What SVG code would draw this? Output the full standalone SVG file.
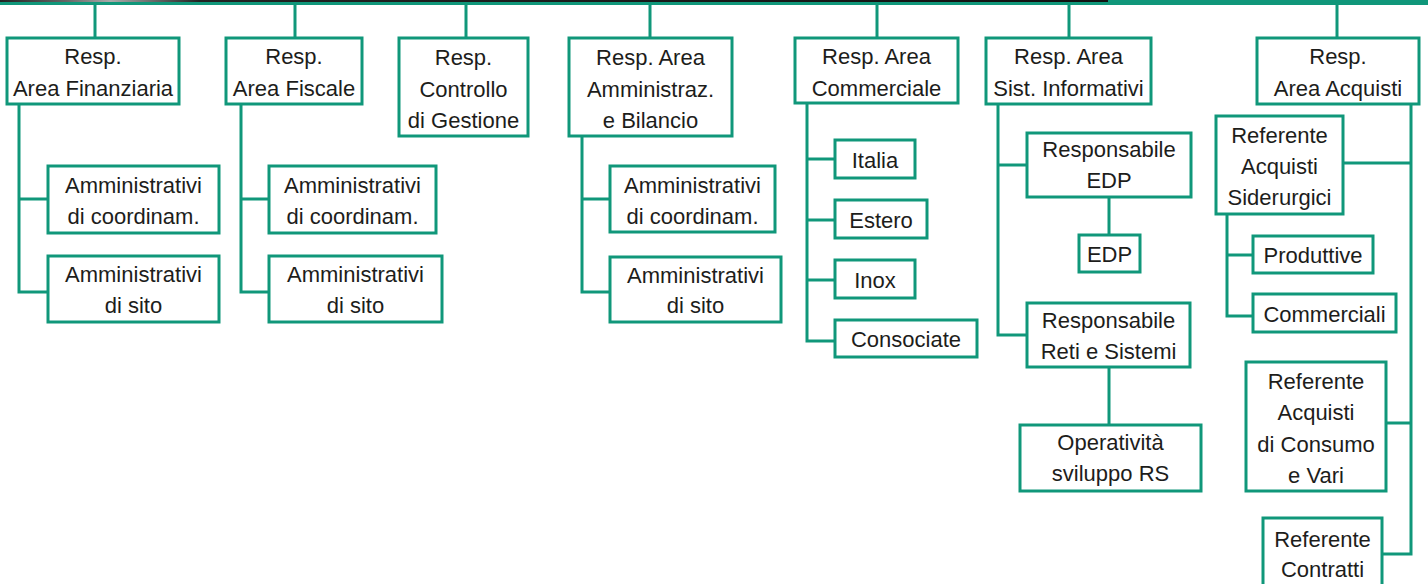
<svg xmlns="http://www.w3.org/2000/svg" width="1428" height="584" viewBox="0 0 1428 584">
<defs>
<linearGradient id="photo" x1="0" y1="0" x2="1" y2="0">
<stop offset="0" stop-color="#222"/><stop offset="0.06" stop-color="#666"/><stop offset="0.1" stop-color="#aaa"/><stop offset="0.18" stop-color="#222"/><stop offset="1" stop-color="#111"/>
</linearGradient>
</defs>
<style>
.b{fill:#fff;stroke:#10977a;stroke-width:3}
.c{fill:none;stroke:#10977a;stroke-width:3}
text{font-family:"Liberation Sans",Arial,sans-serif;font-size:22px;fill:#1d1d1b;text-anchor:middle}
</style>
<rect x="0" y="0" width="1108" height="2" fill="url(#photo)"/>
<g id="connectors">
<path class="c" d="M0 3.5H1428" stroke-width="2.5"/>
<path class="c" d="M1108 1.2H1428M1242 0V3.5" stroke-width="1.6"/>
<path class="c" d="M95 3.5V38M295 3.5V38M466 3.5V38M650 3.5V38M877 3.5V38M1069 3.5V38M1337 3.5V38"/>
<path class="c" d="M19 104V292H48M19 199H48"/>
<path class="c" d="M241 104V292H269M241 199H269"/>
<path class="c" d="M582 136V292H610M582 199H610"/>
<path class="c" d="M807 103V341H835M807 159H835M807 220H835M807 280H835"/>
<path class="c" d="M998 104V335H1027M998 165H1027M1109 197V235M1109 367V425"/>
<path class="c" d="M1411 104V554H1382M1343 163H1411M1386 423H1411"/>
<path class="c" d="M1227 214V316H1253M1227 255H1253"/>
</g>
<g id="n1"><rect class="b" x="7" y="38" width="172" height="66"/><text x="93" y="64">Resp.</text><text x="93" y="96">Area Finanziaria</text></g>
<g id="n2"><rect class="b" x="226" y="38" width="136" height="66"/><text x="294" y="64">Resp.</text><text x="294" y="96">Area Fiscale</text></g>
<g id="n3"><rect class="b" x="399" y="38" width="129" height="98"/><text x="463.5" y="65">Resp.</text><text x="463.5" y="96.5">Controllo</text><text x="463.5" y="128">di Gestione</text></g>
<g id="n4"><rect class="b" x="569" y="38" width="163" height="98"/><text x="650.5" y="65">Resp. Area</text><text x="650.5" y="96.5">Amministraz.</text><text x="650.5" y="128">e Bilancio</text></g>
<g id="n5"><rect class="b" x="795" y="38" width="163" height="65"/><text x="876.5" y="64">Resp. Area</text><text x="876.5" y="96">Commerciale</text></g>
<g id="n6"><rect class="b" x="986" y="38" width="165" height="66"/><text x="1068.5" y="64">Resp. Area</text><text x="1068.5" y="96">Sist. Informativi</text></g>
<g id="n7"><rect class="b" x="1257" y="38" width="162" height="66"/><text x="1338" y="64">Resp.</text><text x="1338" y="96">Area Acquisti</text></g>
<g id="n8"><rect class="b" x="48" y="166" width="171" height="67"/><text x="133.5" y="193">Amministrativi</text><text x="133.5" y="224">di coordinam.</text></g>
<g id="n9"><rect class="b" x="48" y="256" width="171" height="66"/><text x="133.5" y="282">Amministrativi</text><text x="133.5" y="313">di sito</text></g>
<g id="n10"><rect class="b" x="269" y="166" width="167" height="67"/><text x="352.5" y="193">Amministrativi</text><text x="352.5" y="224">di coordinam.</text></g>
<g id="n11"><rect class="b" x="269" y="256" width="173" height="66"/><text x="355.5" y="282">Amministrativi</text><text x="355.5" y="313">di sito</text></g>
<g id="n12"><rect class="b" x="610" y="166" width="165" height="66"/><text x="692.5" y="193">Amministrativi</text><text x="692.5" y="224">di coordinam.</text></g>
<g id="n13"><rect class="b" x="610" y="257" width="171" height="65"/><text x="695.5" y="283">Amministrativi</text><text x="695.5" y="313">di sito</text></g>
<g id="n14"><rect class="b" x="835" y="140" width="80" height="38"/><text x="875" y="168">Italia</text></g>
<g id="n15"><rect class="b" x="835" y="200" width="92" height="38"/><text x="881" y="228">Estero</text></g>
<g id="n16"><rect class="b" x="835" y="260" width="80" height="38"/><text x="875" y="288">Inox</text></g>
<g id="n17"><rect class="b" x="835" y="320" width="142" height="37"/><text x="906" y="347">Consociate</text></g>
<g id="n18"><rect class="b" x="1027" y="133" width="164" height="64"/><text x="1109" y="157">Responsabile</text><text x="1109" y="188">EDP</text></g>
<g id="n19"><rect class="b" x="1079" y="235" width="61" height="37"/><text x="1109.5" y="262">EDP</text></g>
<g id="n20"><rect class="b" x="1027" y="303" width="163" height="64"/><text x="1108.5" y="328">Responsabile</text><text x="1108.5" y="359">Reti e Sistemi</text></g>
<g id="n21"><rect class="b" x="1020" y="425" width="181" height="66"/><text x="1110.5" y="450">Operatività</text><text x="1110.5" y="481">sviluppo RS</text></g>
<g id="n22"><rect class="b" x="1216" y="116" width="127" height="98"/><text x="1279.5" y="143">Referente</text><text x="1279.5" y="174">Acquisti</text><text x="1279.5" y="205">Siderurgici</text></g>
<g id="n23"><rect class="b" x="1253" y="236" width="120" height="37"/><text x="1313" y="263">Produttive</text></g>
<g id="n24"><rect class="b" x="1253" y="294" width="143" height="38"/><text x="1324.5" y="322">Commerciali</text></g>
<g id="n25"><rect class="b" x="1246" y="362" width="140" height="129"/><text x="1316" y="389">Referente</text><text x="1316" y="420">Acquisti</text><text x="1316" y="452">di Consumo</text><text x="1316" y="483">e Vari</text></g>
<g id="n26"><rect class="b" x="1263" y="518" width="119" height="82"/><text x="1322.5" y="547">Referente</text><text x="1322.5" y="577">Contratti</text></g>
</svg>
